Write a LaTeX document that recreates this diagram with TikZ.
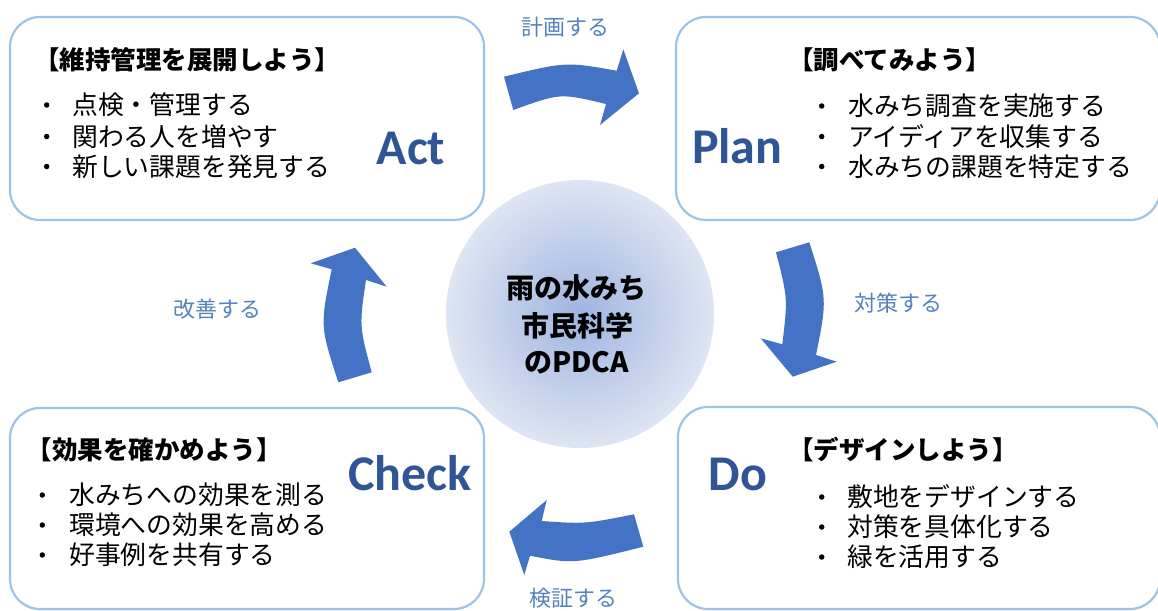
\documentclass[tikz,border=0pt]{standalone}
\usepackage{fontspec}
\newfontfamily\jp{Noto Sans CJK JP}
\newfontfamily\calfont{Carlito}
\definecolor{boxline}{RGB}{157,195,230}
\definecolor{arrowblue}{RGB}{68,114,196}
\definecolor{stagecol}{RGB}{47,85,151}
\definecolor{labelcol}{RGB}{84,130,189}
\definecolor{cin}{RGB}{158,180,224}
\definecolor{cout}{RGB}{222,229,243}
\pgfdeclareradialshading{circshade}{\pgfpoint{0bp}{0bp}}{color(0bp)=(cin); color(25bp)=(cout); color(50bp)=(cout)}
\begin{document}
\begin{tikzpicture}[x=1pt,y=-1pt,
  box/.style={draw=boxline, line width=2.2pt, rounded corners=30pt, fill=white, inner sep=0pt},
  head/.style={font=\jp\bfseries\fontsize{25.5}{30}\selectfont, anchor=base west, inner sep=0pt},
  item/.style={font=\jp\fontsize{25.8}{30}\selectfont, anchor=base west, inner sep=0pt},
  bul/.style={circle, fill=black, minimum size=5.5pt, inner sep=0pt},
  stage/.style={font=\calfont\bfseries\fontsize{50}{60}\selectfont, text=stagecol, anchor=base, inner sep=0pt},
  flow/.style={fill=arrowblue},
  lab/.style={font=\jp\fontsize{22}{26}\selectfont, text=labelcol, anchor=base, inner sep=0pt},
  core/.style={font=\jp\bfseries\fontsize{28}{34}\selectfont, anchor=base, inner sep=0pt}
]
\useasboundingbox (0,0) rectangle (1158,610);
\fill[white] (0,0) rectangle (1158,610);

% centre circle
\node[circle, minimum size=268pt, inner sep=0pt, shading=circshade] (core) at (580,314) {};

% boxes
\node[box, minimum width=474pt, minimum height=203pt] (actbox) at (247,118.5) {};
\node[box, minimum width=484pt, minimum height=203pt] (planbox) at (918,118.5) {};
\node[box, minimum width=474pt, minimum height=201pt] (checkbox) at (247,508.5) {};
\node[box, minimum width=482pt, minimum height=202pt] (dobox) at (919,508) {};

% centre text
\node[core] (c1) at (576,298) {雨の水みち};
\node[core] (c2) at (577.5,336.5) {市民科学};
\node[core] (c3) at (576.5,372) {のPDCA};

% Act
\node[head] (acth) at (34,69.5) {【維持管理を展開しよう】};
\node[bul] (actb1) at (46.7,105) {};
\node[bul] (actb2) at (46.7,136.5) {};
\node[bul] (actb3) at (46.7,166.5) {};
\node[item] (acti1) at (72,114.5) {点検・管理する};
\node[item] (acti2) at (72,146) {関わる人を増やす};
\node[item] (acti3) at (72,176) {新しい課題を発見する};
\node[stage] (act) at (411,164) {Act};

% Plan
\node[head] (planh) at (788,69.5) {【調べてみよう】};
\node[bul] (planb1) at (821.7,106) {};
\node[bul] (planb2) at (821.7,136.5) {};
\node[bul] (planb3) at (821.7,166.5) {};
\node[item] (plani1) at (848,115.5) {水みち調査を実施する};
\node[item] (plani2) at (848,146) {アイディアを収集する};
\node[item] (plani3) at (848,176) {水みちの課題を特定する};
\node[stage] (plan) at (737.2,163) {Plan};

% Do
\node[head] (doh) at (788,459.5) {【デザインしよう】};
\node[bul] (dob1) at (821.7,497) {};
\node[bul] (dob2) at (821.7,527) {};
\node[bul] (dob3) at (821.7,557) {};
\node[item] (doi1) at (847,506.5) {敷地をデザインする};
\node[item] (doi2) at (847,536.5) {対策を具体化する};
\node[item] (doi3) at (847,566.5) {緑を活用する};
\node[stage] (do) at (737.7,490) {Do};

% Check
\node[head] (checkh) at (26.5,459.5) {【効果を確かめよう】};
\node[bul] (checkb1) at (42.3,495) {};
\node[bul] (checkb2) at (42.3,525) {};
\node[bul] (checkb3) at (42.3,555) {};
\node[item] (checki1) at (69,504.5) {水みちへの効果を測る};
\node[item] (checki2) at (69,534.5) {環境への効果を高める};
\node[item] (checki3) at (69,564.5) {好事例を共有する};
\node[stage] (check) at (410,490) {Check};

% cycle arrows
\fill[flow] (504,76.7) .. controls (565.7,61.7) .. (616.7,70.7) -- (623.3,49.3) -- (639,93.3)
  -- (600,125) -- (606,104) .. controls (560.3,93) .. (513.3,110) -- cycle;
\fill[flow] (776,252.3) -- (809.3,242.3) .. controls (827.3,298.7) .. (816,355) -- (836.7,361.7)
  -- (792.7,376.7) -- (760.7,338.3) -- (782.3,344.3) .. controls (787.8,298.3) .. (776,252.3) -- cycle;
\fill[flow] (634,514.3) .. controls (585,524) .. (541.7,521) -- (546.7,500) -- (509.3,531.7)
  -- (524.3,575) -- (530,555.7) .. controls (573.3,564.2) .. (643.3,546.7) -- cycle;
\fill[flow] (338.3,382.3) -- (371.7,372.3) .. controls (359.2,325.9) .. (366,280) -- (386.7,286.7)
  -- (355,247.7) -- (310.7,263.3) -- (331.7,269.3) .. controls (320,325.8) .. (338.3,382.3) -- cycle;

% arrow labels
\node[lab] (l1) at (565,35.4) {計画する};
\node[lab] (l2) at (898,311.4) {対策する};
\node[lab] (l3) at (573,606.4) {検証する};
\node[lab] (l4) at (217,317.4) {改善する};
\end{tikzpicture}
\end{document}
